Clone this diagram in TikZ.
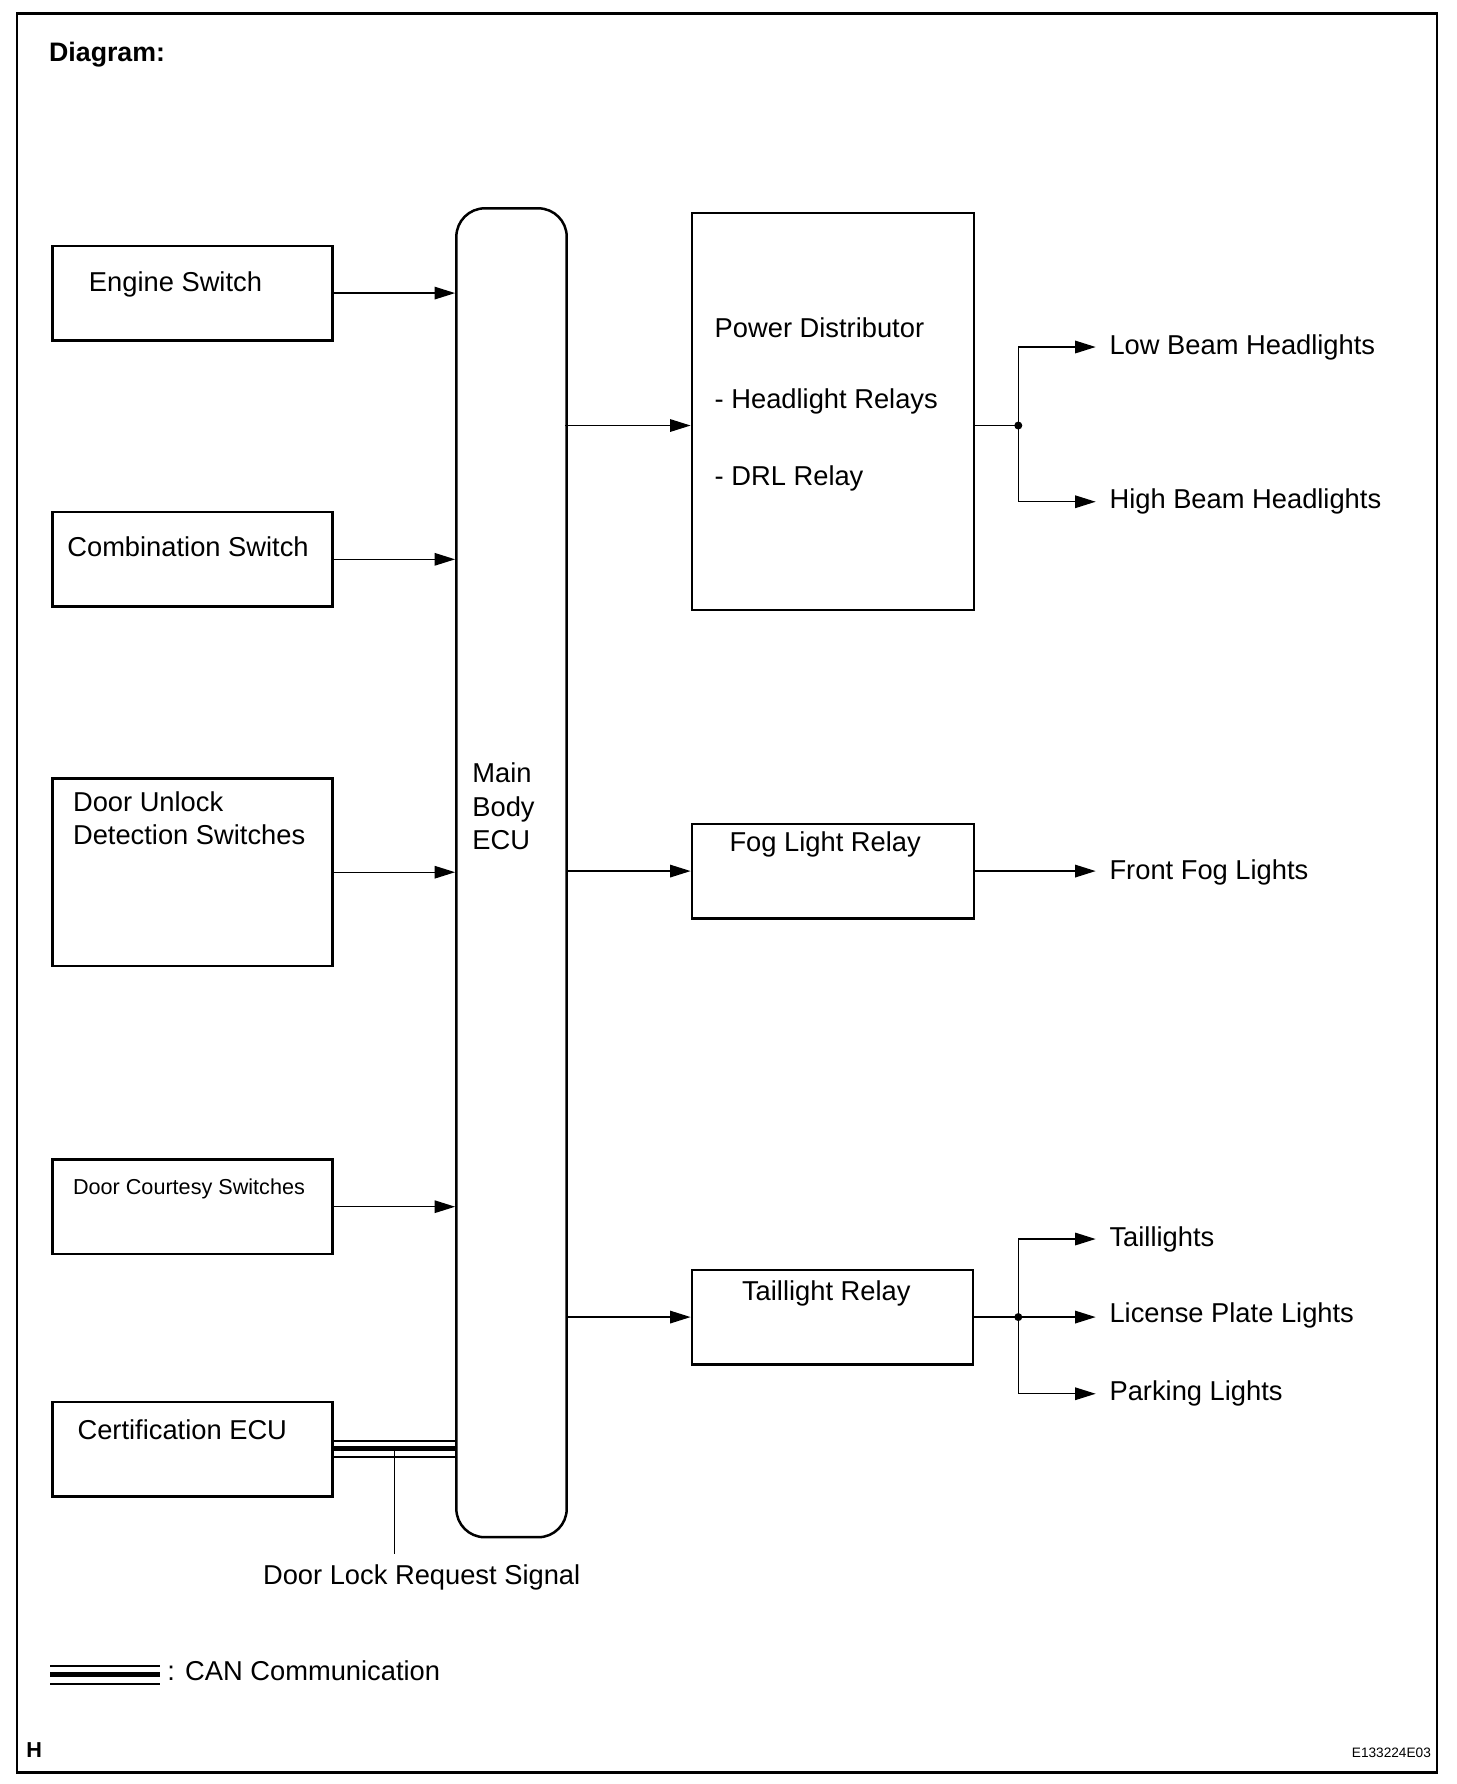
\documentclass[tikz,border=0pt]{standalone}
\usepackage{fontspec}
\setmainfont{Liberation Sans}
\usetikzlibrary{arrows.meta}
\tikzset{
  box/.style={draw, line width=2.2pt, inner sep=0pt, anchor=north west},
  ecubox/.style={draw, line width=2.2pt, rounded corners=25pt, inner sep=0pt, anchor=north west},
  txt/.style={anchor=base west, inner sep=0pt, font=\fontsize{24}{29}\selectfont},
  smalltxt/.style={anchor=base west, inner sep=0pt, font=\fontsize{19}{23}\selectfont},
  outtxt/.style={anchor=west, inner sep=0pt, font=\fontsize{24}{29}\selectfont},
  arr/.style={line width=1.2pt, -{Triangle[length=18pt,width=11pt]}},
  wire/.style={line width=1.2pt},
  thinbus/.style={line width=1.8pt},
  thickbus/.style={line width=4.6pt},
  junc/.style={circle, fill, inner sep=0pt, minimum size=7pt}
}
\begin{document}
\begin{tikzpicture}[x=1pt,y=-1pt]
\useasboundingbox (0,0) rectangle (1280,1568);
% frame
\draw[line width=2.2pt] (15,12) rectangle (1263,1558);
\node[anchor=base west, inner sep=0pt, font=\fontsize{23.5}{28}\selectfont\bfseries] (title) at (43,54) {Diagram:};
\node[anchor=base west, inner sep=0pt, font=\fontsize{19}{22}\selectfont\bfseries] (hmark) at (23,1545) {H};
\node[anchor=base west, inner sep=0pt, font=\fontsize{12}{14}\selectfont] (code) at (1188,1545) {E133224E03};

% left boxes
\node[box, minimum width=246pt, minimum height=83pt] (eng) at (45,215) {};
\node[txt] (engt) at (78,256) {Engine Switch};
\node[box, minimum width=246pt, minimum height=83pt] (comb) at (45,449) {};
\node[txt] (combt) at (59,489) {Combination Switch};
\node[box, minimum width=246pt, minimum height=165pt] (dul) at (45,683) {};
\node[txt] (dult1) at (64,713) {Door Unlock};
\node[txt] (dult2) at (64,742) {Detection Switches};
\node[box, minimum width=246pt, minimum height=83pt] (dcs) at (45,1018) {};
\node[smalltxt] (dcst) at (64,1050) {Door Courtesy Switches};
\node[box, minimum width=246pt, minimum height=83pt] (cert) at (45,1231) {};
\node[txt] (certt) at (68,1265) {Certification ECU};

% main body ECU
\node[ecubox, minimum width=97pt, minimum height=1168pt] (ecu) at (400,182) {};
\node[txt] (ecut1) at (415,688) {Main};
\node[txt] (ecut2) at (415,718) {Body};
\node[txt] (ecut3) at (415,747) {ECU};

% right boxes
\node[box, minimum width=248pt, minimum height=349pt] (pd) at (607,186) {};
\node[txt] (pdt1) at (628,297) {Power Distributor};
\node[txt] (pdt2) at (628,359) {- Headlight Relays};
\node[txt] (pdt3) at (628,427) {- DRL Relay};
\node[box, minimum width=248pt, minimum height=83pt] (fog) at (607,723) {};
\node[txt] (fogt) at (641,748) {Fog Light Relay};
\node[box, minimum width=247pt, minimum height=83pt] (tail) at (607,1115) {};
\node[txt] (tailt) at (652,1143) {Taillight Relay};

% outputs
\node[outtxt] (low) at (975,305) {Low Beam Headlights};
\node[outtxt] (high) at (975,441) {High Beam Headlights};
\node[outtxt] (ffog) at (975,767) {Front Fog Lights};
\node[outtxt] (tl) at (975,1089) {Taillights};
\node[outtxt] (lic) at (975,1156) {License Plate Lights};
\node[outtxt] (park) at (975,1225) {Parking Lights};

% inputs to ECU
\draw[arr] (eng.east) -- (eng.east -| ecu.west);
\draw[arr] (comb.east) -- (comb.east -| ecu.west);
\draw[arr] (dul.east) -- (dul.east -| ecu.west);
\draw[arr] (dcs.east) -- (dcs.east -| ecu.west);

% CAN bus
\coordinate (canA) at (291,1266.5);
\coordinate (canB) at (291,1273.3);
\coordinate (canC) at (291,1280.5);
\draw[thinbus] (canA) -- (canA -| ecu.west);
\draw[thickbus] (canB) -- (canB -| ecu.west);
\draw[thinbus] (canC) -- (canC -| ecu.west);
\coordinate (ldtop) at (346.5,1274);
\node[txt] (dlrs) at (231,1393) {Door Lock Request Signal};
\draw[wire] (ldtop) -- (346.5,1366);

% ECU outputs
\coordinate (e1) at (497,374);
\draw[arr] (e1) -- (e1 -| pd.west);
\draw[arr] (fog.west -| ecu.east) -- (fog.west);
\draw[arr] (tail.west -| ecu.east) -- (tail.west);

% power distributor branches
\node[junc] (j1) at (895,374) {};
\draw[wire] (e1 -| pd.east) -- (j1.center);
\draw[arr] (j1.center) |- ([xshift=-12pt]low.west);
\draw[arr] (j1.center) |- ([xshift=-12pt]high.west);

% fog
\draw[arr] (fog.east) -- ([xshift=-12pt]fog.east -| ffog.west);

% taillight branches
\node[junc] (j2) at (tail.east -| 895,0) {};
\draw[wire] (tail.east) -- (j2.center);
\draw[arr] (j2.center) |- ([xshift=-12pt]tl.west);
\draw[arr] (j2.center) -- ([xshift=-12pt]j2.center -| lic.west);
\draw[arr] (j2.center) |- ([xshift=-12pt]park.west);

% legend
\coordinate (lgA) at (44,1464);
\coordinate (lgB) at (44,1472);
\coordinate (lgC) at (44,1480);
\draw[thinbus] (lgA) -- (141,1464);
\draw[thickbus] (lgB) -- (141,1472);
\draw[thinbus] (lgC) -- (141,1480);
\node[txt] (lgt) at (147,1477) {: CAN Communication};
\end{tikzpicture}
\end{document}
